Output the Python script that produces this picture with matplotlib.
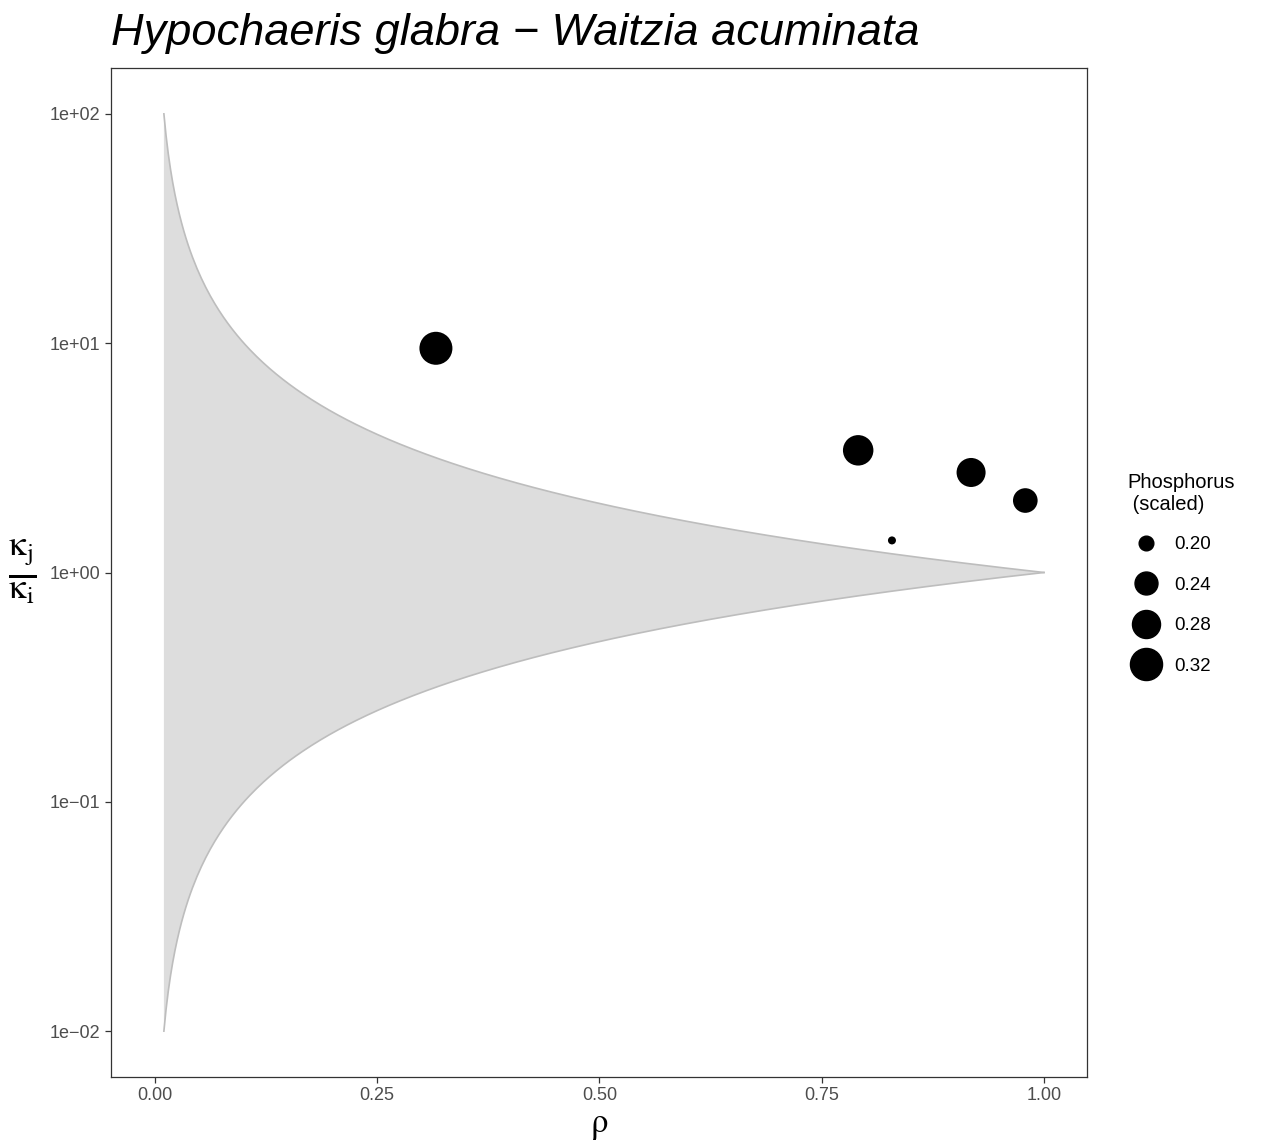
import numpy as np
import matplotlib
matplotlib.use("Agg")
import matplotlib.pyplot as plt
from matplotlib.lines import Line2D

plt.rcParams['font.family'] = ['Liberation Sans', 'DejaVu Sans']
plt.rcParams['mathtext.fontset'] = 'stix'

title = "Hypochaeris glabra \u2212 Waitzia acuminata"
rho_pts = [0.316, 0.791, 0.829, 0.918, 0.979]
ratio_pts = [9.5, 3.41, 1.38, 2.73, 2.06]
phos = [0.33, 0.303, 0.19, 0.289, 0.252]
legend_vals = [0.20, 0.24, 0.28, 0.32]
xticks = [0.0, 0.25, 0.5, 0.75, 1.0]
xticklabels = ["0.00", "0.25", "0.50", "0.75", "1.00"]
yticks = [1e-2, 1e-1, 1e0, 1e1, 1e2]
yticklabels = ["1e\u221202", "1e\u221201", "1e+00", "1e+01", "1e+02"]

# coexistence region boundary: rho < kj/ki < 1/rho
rho_grid = np.linspace(0.01, 1.0, 400)
upper = 1.0 / rho_grid
lower = rho_grid

vmin, vmax = 0.19, 0.33
dmin_px, dmax_px = 8.0, 33.0
def diam_pt(v):
    t = np.clip((np.asarray(v) - vmin) / (vmax - vmin), 0, 1)
    return (dmin_px + (dmax_px - dmin_px) * np.sqrt(t)) * 0.72

fig = plt.figure(figsize=(12.7, 11.4), dpi=100)
ax = fig.add_axes([111/1270, 1-1077/1140, (1087-111)/1270, (1077-68)/1140])

ax.fill_between(rho_grid, lower, upper, facecolor='#dddddd', edgecolor='none', zorder=1)
ax.plot(rho_grid, upper, color='#bdbdbd', lw=1.2, zorder=2)
ax.plot(rho_grid, lower, color='#bdbdbd', lw=1.2, zorder=2)

ax.scatter(rho_pts, ratio_pts, s=diam_pt(phos)**2, c='black', edgecolors='none', zorder=3)

ax.set_yscale('log')
ax.set_xlim(-0.0495, 1.0484)
ax.set_ylim(10**-2.2, 10**2.2)
ax.set_xticks(xticks)
ax.set_xticklabels(xticklabels)
ax.set_yticks(yticks)
ax.set_yticklabels(yticklabels)
ax.yaxis.set_minor_locator(matplotlib.ticker.NullLocator())
ax.tick_params(axis='both', which='major', labelsize=13, labelcolor='#4d4d4d',
               color='#333333', length=4.5, width=0.9, pad=3)
for sp in ax.spines.values():
    sp.set_color('#333333')
    sp.set_linewidth(0.9)

ax.set_xlabel('$\\mathrm{\u03c1}$', fontsize=25, labelpad=3)
fig.text(22/1270, 1-572/1140, '$\\frac{\\mathrm{\u03ba_j}}{\\mathrm{\u03ba_i}}$', fontsize=36,
         ha='center', va='center')

fig.text(111/1270, 1-33/1140, title, fontsize=32.5, style='italic',
         ha='left', va='center')

handles = [Line2D([], [], marker='o', ls='none', color='black',
                  markersize=float(diam_pt(v))) for v in legend_vals]
leg = fig.legend(handles, ["%.2f" % v for v in legend_vals],
                 title="Phosphorus\n (scaled)", loc='upper left',
                 bbox_to_anchor=(1112/1270, 1-458/1140), frameon=False,
                 fontsize=13.5, title_fontsize=14.5, labelspacing=1.25,
                 handletextpad=0.5, borderpad=0.3)
leg._legend_box.align = 'left'
leg._legend_box.sep = 16

fig.savefig('out.png', dpi=100, facecolor='white')
